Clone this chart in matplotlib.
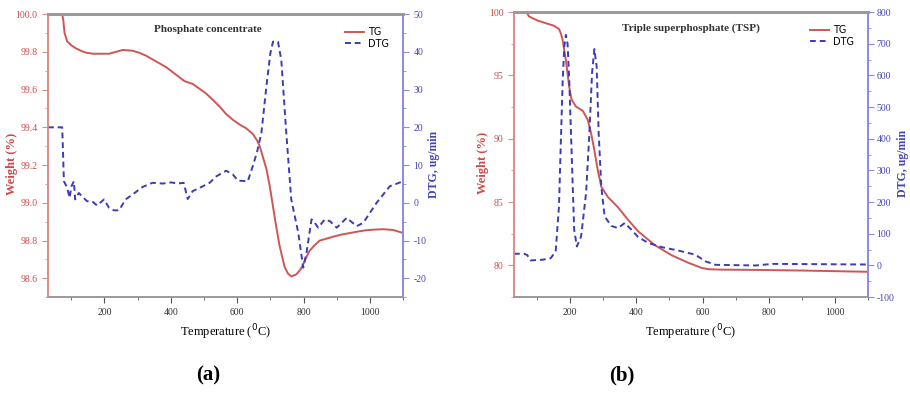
import matplotlib
matplotlib.use("Agg")
import matplotlib.pyplot as plt
from matplotlib.ticker import MultipleLocator

plt.rcParams['font.family'] = ['Liberation Serif', 'DejaVu Serif']
plt.rcParams['axes.unicode_minus'] = False

# ---------------- Panel (a): Phosphate concentrate ----------------
a_tg_temp = [30, 73, 76, 80, 88, 100, 113, 130, 144, 165, 184, 214, 235, 255, 285, 305, 325,
             355, 385, 415, 441, 466, 486, 506, 527, 547, 567, 587, 607, 627, 647, 660, 668,
             678, 688, 698, 708, 718, 728, 743, 753, 763, 778, 790, 798, 808, 818, 833, 849,
             869, 889, 915, 940, 965, 990, 1015, 1040, 1070, 1100]
a_tg_weight = [100.0, 100.0, 99.97, 99.90, 99.855, 99.835, 99.82, 99.805, 99.796, 99.79, 99.79,
               99.79, 99.80, 99.81, 99.806, 99.795, 99.78, 99.75, 99.72, 99.68, 99.645, 99.63,
               99.605, 99.58, 99.545, 99.51, 99.47, 99.44, 99.415, 99.395, 99.365, 99.33, 99.30,
               99.24, 99.18, 99.09, 98.98, 98.87, 98.77, 98.66, 98.625, 98.61, 98.62, 98.645,
               98.67, 98.71, 98.745, 98.775, 98.80, 98.81, 98.82, 98.832, 98.84, 98.848, 98.855,
               98.858, 98.86, 98.856, 98.84]

a_dtg_temp = [30, 73, 78, 88, 95, 101, 108, 112, 123, 133, 148, 163, 178, 199, 214, 229, 244,
              264, 285, 315, 345, 376, 401, 421, 439, 451, 466, 486, 517, 537, 567, 587, 602,
              632, 647, 660, 673, 688, 700, 708, 723, 733, 748, 763, 784, 799, 809, 824, 834,
              844, 864, 880, 900, 930, 960, 980, 1020, 1060, 1100]
a_dtg_value = [20, 20, 5.7, 4.0, 1.3, 4.4, 5.7, 0.9, 2.6, 1.7, 0.4, 0.4, -0.7, 0.9, -1.3, -2.0,
               -2.0, 0.9, 2.2, 4.2, 5.3, 5.1, 5.4, 5.1, 5.3, 1.0, 3.1, 3.9, 5.3, 7.0, 8.5, 7.5,
               5.9, 5.7, 9.7, 13.5, 18.5, 30.8, 39.6, 42.7, 42.7, 37.8, 18.5, 0.9, -7.9, -17.2,
               -13.2, -4.4, -5.3, -6.6, -4.4, -4.9, -6.6, -4.0, -6.2, -5.3, 0.0, 4.4, 5.7]

# ---------------- Panel (b): Triple superphosphate ----------------
b_tg_temp = [30, 68, 75, 100, 131, 151, 166, 172, 177, 187, 197, 204, 217, 238, 253, 263,
             273, 283, 294, 314, 344, 375, 405, 456, 507, 558, 598, 619, 660, 761, 900, 1100]
b_tg_weight = [100.0, 100.0, 99.66, 99.34, 99.08, 98.92, 98.66, 98.3, 97.8, 96.2, 94.1, 93.1,
               92.55, 92.2, 91.5, 90.45, 89.1, 87.55, 86.2, 85.4, 84.6, 83.6, 82.7, 81.6, 80.8,
               80.2, 79.8, 79.7, 79.67, 79.65, 79.6, 79.5]

b_dtg_temp = [30, 60, 70, 80, 116, 141, 156, 166, 172, 177, 182, 187, 192, 197, 204, 212, 220,
              233, 248, 258, 266, 273, 280, 286, 294, 304, 324, 344, 365, 385, 405, 436, 476,
              527, 578, 609, 639, 761, 812, 1100]
b_dtg_value = [37, 37, 33, 16, 18, 23, 44, 186, 400, 576, 690, 728, 700, 586, 365, 113, 60,
               92, 229, 418, 607, 683, 628, 418, 249, 155, 125, 118, 134, 113, 90, 71, 58, 47,
               34, 13, 2, 0, 5, 3]

xticks = [200, 400, 600, 800, 1000]

RED = '#d05555'
BLUE = '#3c3cb4'
RED_TXT = '#d04848'
BLUE_TXT = '#4444b4'
RED_SP = '#e08a8a'
BLUE_SP = '#8a8ae0'
GRAY = '#9a9a9a'

fig = plt.figure(figsize=(9.10, 4.15), dpi=100)

def panel(rect, title, title_x, tg_t, tg_w, dtg_t, dtg_v, ylim_l, ylim_r,
          lmaj, lmin, rmaj, rmin, lfmt, lab_l, lab_r, rpad):
    ax = fig.add_axes(rect)
    ax2 = ax.twinx()
    l1, = ax.plot(tg_t, tg_w, color=RED, lw=1.4, label='TG')
    l2, = ax2.plot(dtg_t, dtg_v, color=BLUE, lw=1.4, ls=(0, (3, 2)), label='DTG')
    ax.set_xlim(30, 1100)
    ax.set_ylim(*ylim_l)
    ax2.set_ylim(*ylim_r)
    ax.set_xticks(xticks)
    ax.xaxis.set_minor_locator(MultipleLocator(100))
    ax.yaxis.set_major_locator(MultipleLocator(lmaj))
    ax.yaxis.set_minor_locator(MultipleLocator(lmin))
    ax2.yaxis.set_major_locator(MultipleLocator(rmaj))
    ax2.yaxis.set_minor_locator(MultipleLocator(rmin))
    ax.yaxis.set_major_formatter(lfmt)
    for a in (ax, ax2):
        for s in a.spines.values():
            s.set_linewidth(1.2)
        a.spines['top'].set_color(GRAY)
        a.spines['bottom'].set_color(GRAY)
        a.spines['left'].set_color(RED_SP)
        a.spines['right'].set_color(BLUE_SP)
        a.spines['top'].set_linewidth(2.0)
    ax.tick_params(axis='x', which='both', direction='out', colors='#555555', labelsize=7,
                   labelcolor='#333333')
    ax.tick_params(axis='x', which='major', length=4)
    ax.tick_params(axis='x', which='minor', length=2.5)
    ax.tick_params(axis='y', which='both', direction='out', colors=RED_SP, labelcolor=RED_TXT,
                   labelsize=7)
    ax.tick_params(axis='y', which='major', length=4)
    ax.tick_params(axis='y', which='minor', length=2.5)
    ax2.tick_params(axis='y', which='both', direction='out', colors=BLUE_SP, labelcolor=BLUE_TXT,
                    labelsize=7, pad=rpad)
    ax2.tick_params(axis='y', which='major', length=4)
    ax2.tick_params(axis='y', which='minor', length=2.5)
    ax.set_ylabel('Weight (%)', color=RED_TXT, fontsize=9, fontweight='bold')
    ax2.set_ylabel('DTG, ug/min', color=BLUE_TXT, fontsize=8.5, fontweight='bold')
    ax.yaxis.set_label_coords(lab_l, 0.47)
    ax2.yaxis.set_label_coords(lab_r, 0.47)
    ax.set_xlabel('Temperature ($^{0}$C)', fontsize=9, labelpad=4)
    ax.text(title_x, 0.945, title, transform=ax.transAxes, ha='center', va='center',
            fontsize=8, fontweight='bold', color='#333333')
    ax.legend(handles=[l1, l2], loc='upper right', bbox_to_anchor=(0.985, 0.985),
              frameon=False, handlelength=2.0, labelspacing=0.15,
              handletextpad=0.4, prop={'family': 'DejaVu Sans', 'size': 7})
    return ax, ax2

panel([0.0527, 0.284, 0.3903, 0.682], 'Phosphate concentrate', 0.45,
      a_tg_temp, a_tg_weight, a_dtg_temp, a_dtg_value,
      (98.5, 100.0), (-25, 50), 0.2, 0.1, 10, 5, '{x:.1f}', -0.085, 1.07, 3.5)

panel([0.5648, 0.284, 0.3890, 0.687], 'Triple superphosphate (TSP)', 0.5,
      b_tg_temp, b_tg_weight, b_dtg_temp, b_dtg_value,
      (77.5, 100.0), (-100, 800), 5, 2.5, 100, 50, '{x:.0f}', -0.07, 1.083, 2.0)

fig.text(0.229, 0.096, '(a)', ha='center', va='center', fontsize=15, fontweight='bold')
fig.text(0.683, 0.096, '(b)', ha='center', va='center', fontsize=15, fontweight='bold')

fig.savefig('out.png', dpi=100)
